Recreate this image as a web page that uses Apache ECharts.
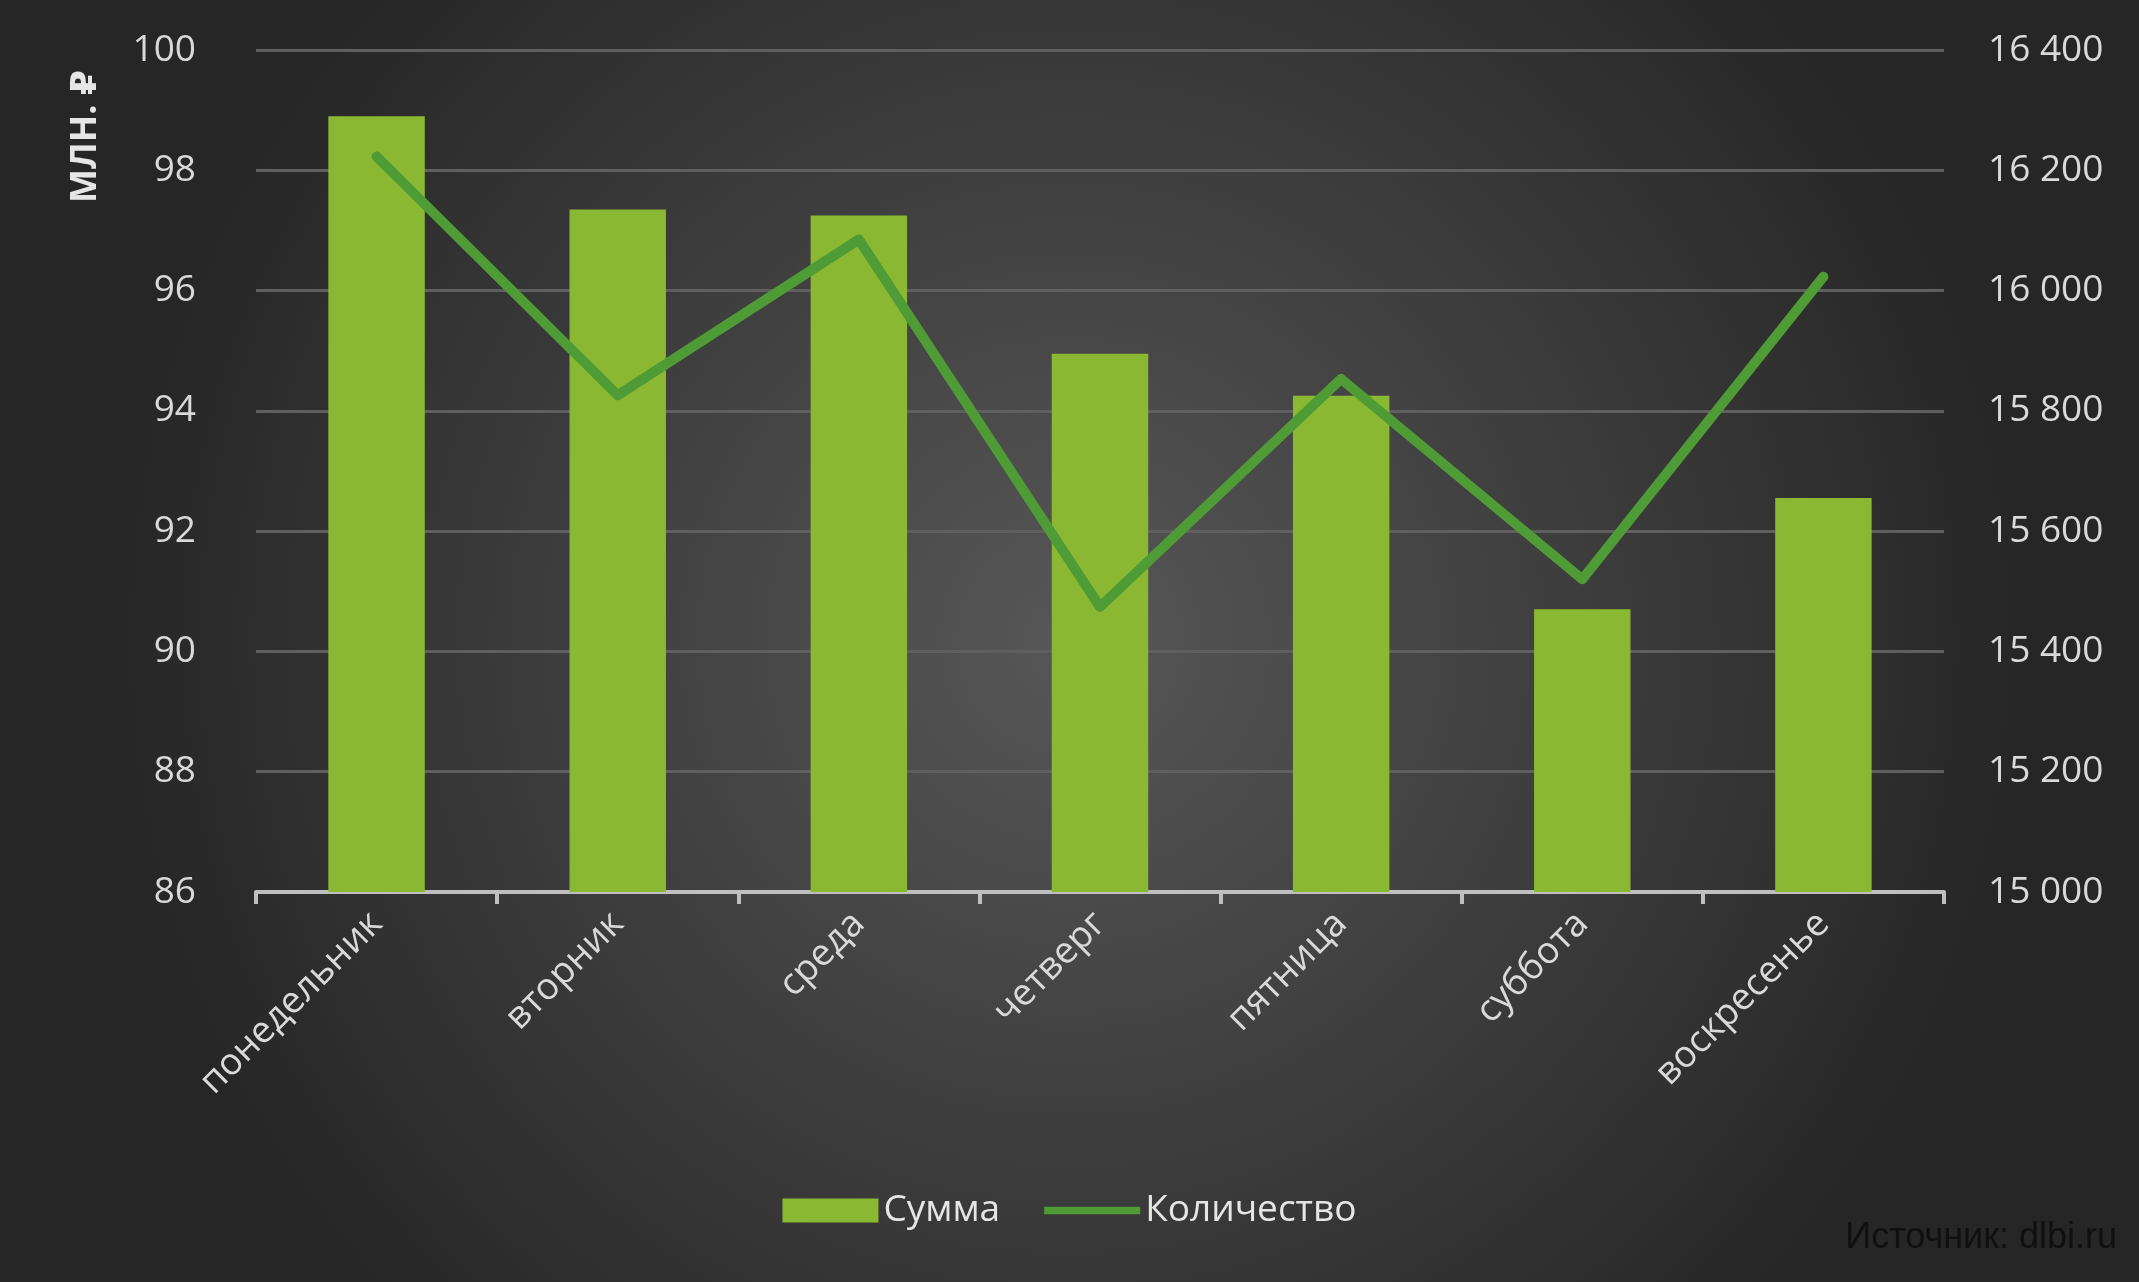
<!DOCTYPE html>
<html><head><meta charset="utf-8">
<script src="https://cdn.jsdelivr.net/npm/echarts@6/dist/echarts.min.js"></script>
<style>html,body{margin:0;padding:0;}#c{width:2139px;height:1282px;}</style>
</head><body><div id="c"></div>
<script>
const days = ["понедельник", "вторник", "среда", "четверг", "пятница", "суббота", "воскресенье"];
const summa = [98.9, 97.35, 97.25, 94.95, 94.25, 90.7, 92.55];
const kolvo = [16223, 15826, 16085, 15474, 15853, 15520, 16023];

const chart = echarts.init(document.getElementById("c"));
const font = "'Open Sans', 'DejaVu Sans', sans-serif";
chart.setOption({
  backgroundColor: new echarts.graphic.RadialGradient(0.5, 0.5, 0.75, [
    { offset: 0, color: "#575757" },
    { offset: 1, color: "#262626" },
  ]),
  textStyle: { fontFamily: font },
  grid: { left: 256, right: 195, top: 50, bottom: 390 },
  legend: {
    bottom: 48, left: "center", itemWidth: 96, itemHeight: 24, itemGap: 44,
    textStyle: { color: "#e6e6e6", fontSize: 37, fontFamily: font },
    data: [
      { name: "Сумма", icon: "rect" },
      { name: "Количество", icon: "path://M0,0 L0.01,0 L0,0 Z M0,3.4 L40,3.4 L40,6.6 L0,6.6 Z M0,10 L0.01,10 L0,10 Z" },
    ],
  },
  graphic: [
    { type: "text", right: 22, bottom: 26, style: { text: "Источник: dlbi.ru", fill: "#101010", fontSize: 36, fontFamily: "'Liberation Sans', sans-serif" } },
    { type: "text", left: 68, top: 70, rotation: Math.PI / 2, originX: 0, originY: 0,
      style: { text: "МЛН. ₽", fill: "#e6e6e6", fontSize: 36, fontWeight: "bold", fontFamily: font } },
  ],
  xAxis: {
    type: "category", data: days,
    axisLine: { lineStyle: { color: "#bfbfbf", width: 4 } },
    axisTick: { show: true, length: 12, lineStyle: { color: "#bfbfbf", width: 4 } },
    axisLabel: { rotate: 45, color: "#d9d9d9", fontSize: 37, margin: 26 },
  },
  yAxis: [
    {
      type: "value", min: 86, max: 100, interval: 2,
      axisLabel: { color: "#d9d9d9", fontSize: 37, margin: 60 },
      splitLine: { lineStyle: { color: "#5f5f5f", width: 3 } },
      axisLine: { show: false }, axisTick: { show: false },
    },
    {
      type: "value", min: 15000, max: 16400, interval: 200,
      axisLabel: { color: "#d9d9d9", fontSize: 37, margin: 44,
        formatter: v => String(v).replace(/\B(?=(\d{3})+(?!\d))/g, " ") },
      splitLine: { show: false }, axisLine: { show: false }, axisTick: { show: false },
    },
  ],
  series: [
    { name: "Сумма", type: "bar", data: summa, barWidth: "40%", itemStyle: { color: "#8ab833" } },
    { name: "Количество", type: "line", yAxisIndex: 1, data: kolvo, symbol: "none",
      lineStyle: { color: "#4f9b35", width: 10, cap: "round", join: "round" }, itemStyle: { color: "#4f9b35" } },
  ],
});
</script></body></html>
